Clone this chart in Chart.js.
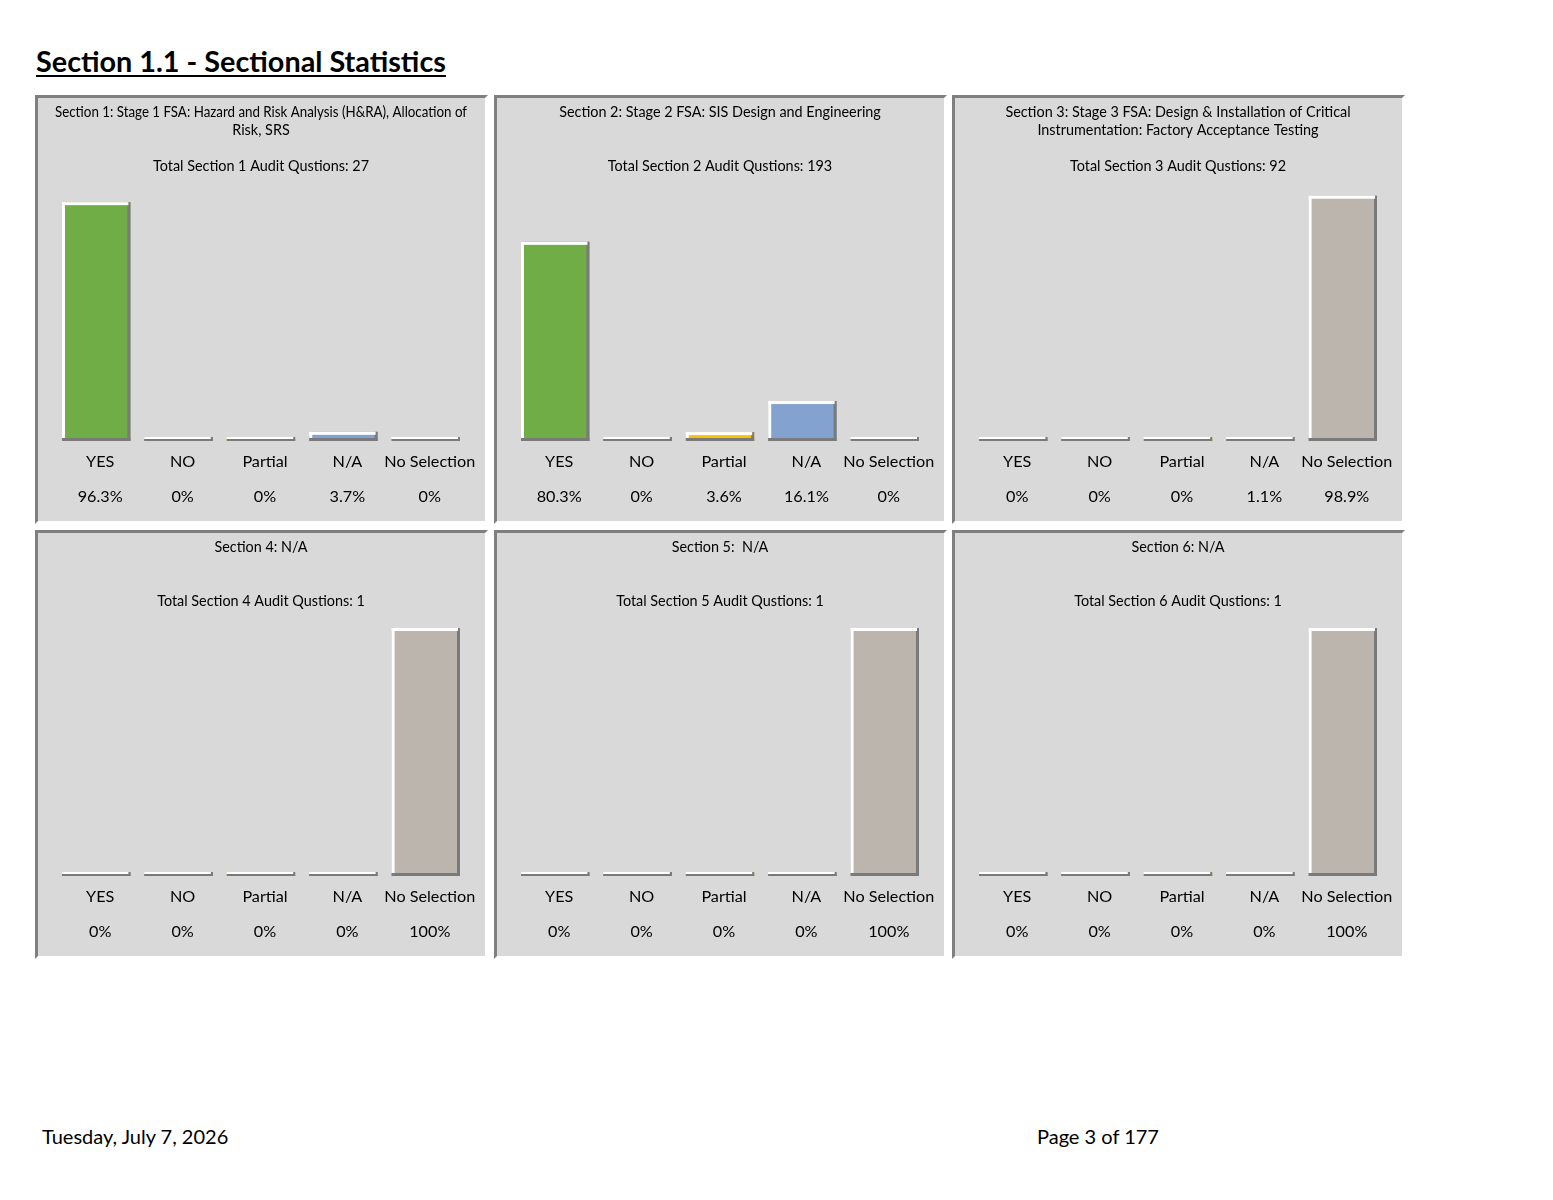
<!DOCTYPE html>
<html>
<head>
<meta charset="utf-8">
<script src="https://cdn.jsdelivr.net/npm/chart.js@4"></script>
<style>
  html, body { margin:0; padding:0; background:#fff; }
  body { width:1553px; height:1200px; position:relative; font-family: Lato, "Open Sans", sans-serif; }
  #pageTitle { position:absolute; left:36px; top:44px; margin:0; font-size:28.8px; font-weight:bold; text-decoration:underline; text-decoration-thickness:2px; text-underline-offset:3px; color:#000; white-space:nowrap; }
  .panel { position:absolute; width:447px; height:423px; background:#d9d9d9;
           border-top:3px solid #7f7f7f; border-left:3px solid #7f7f7f;
           border-right:3px solid #ffffff; border-bottom:3px solid #ffffff; }
  .panel canvas { display:block; }
  .footer { position:absolute; top:1124px; font-size:20px; color:#000; white-space:nowrap; }
</style>
</head>
<body>
<h1 id="pageTitle">Section 1.1 - Sectional Statistics</h1>
<div id="panels"></div>
<div class="footer" style="left:42px;">Tuesday, July 7, 2026</div>
<div class="footer" style="left:1037px;">Page 3 of 177</div>
<script>
// ---- data ----
const categories = ["YES", "NO", "Partial", "N/A", "No Selection"];
const barColors = ["#70ad47", "#c0504d", "#ffc000", "#84a2cf", "#bcb5ae"];
const sectionTitles = [
  ["Section 1: Stage 1 FSA: Hazard and Risk Analysis (H&RA), Allocation of", "Risk, SRS"],
  ["Section 2: Stage 2 FSA: SIS Design and Engineering", ""],
  ["Section 3: Stage 3 FSA: Design & Installation of Critical", "Instrumentation: Factory Acceptance Testing"],
  ["Section 4: N/A", ""],
  ["Section 5:  N/A", ""],
  ["Section 6: N/A", ""]
];
const sectionTotals = [27, 193, 92, 1, 1, 1];
const section1Values = [96.3, 0, 0, 3.7, 0];
const section2Values = [80.3, 0, 3.6, 16.1, 0];
const section3Values = [0, 0, 0, 1.1, 98.9];
const section4Values = [0, 0, 0, 0, 100];
const section5Values = [0, 0, 0, 0, 100];
const section6Values = [0, 0, 0, 0, 100];
const allValues = [section1Values, section2Values, section3Values, section4Values, section5Values, section6Values];

// ---- layout ----
const panelLefts = [35, 494, 952];
const panelTops = [95, 530];

const bevelPlugin = {
  id: 'bevel',
  afterDatasetsDraw(chart) {
    const ctx = chart.ctx;
    chart.data.datasets.forEach((ds, di) => {
      const meta = chart.getDatasetMeta(di);
      meta.data.forEach(el => {
        const p = el.getProps(['x', 'y', 'base', 'width'], true);
        const l = p.x - p.width / 2, r = p.x + p.width / 2;
        const t = Math.min(p.y, p.base), b = Math.max(p.y, p.base);
        const h = b - t, w = r - l;
        const s = Math.min(3, h / 2);
        ctx.save();
        ctx.fillStyle = '#7a7a7a';
        ctx.fillRect(r - 3, t, 3, h);
        ctx.fillRect(l, b - s, w, s);
        ctx.fillStyle = '#ffffff';
        ctx.fillRect(l, t, w - 2, s);
        ctx.fillRect(l, t, 3, h - s);
        ctx.restore();
      });
    });
  }
};

const container = document.getElementById('panels');
allValues.forEach((vals, i) => {
  const div = document.createElement('div');
  div.className = 'panel';
  div.style.left = panelLefts[i % 3] + 'px';
  div.style.top = panelTops[Math.floor(i / 3)] + 'px';
  const cv = document.createElement('canvas');
  cv.width = 447; cv.height = 423;
  cv.style.width = '447px'; cv.style.height = '423px';
  div.appendChild(cv);
  container.appendChild(div);

  const labels = categories.map((c, k) => [c, vals[k] + '%']);
  new Chart(cv, {
    type: 'bar',
    data: {
      labels: labels,
      datasets: [{
        data: vals,
        backgroundColor: barColors,
        borderWidth: 0,
        minBarLength: 4,
        barPercentage: 0.83,
        categoryPercentage: 1.0
      }]
    },
    options: {
      responsive: false,
      animation: false,
      devicePixelRatio: 1,
      layout: { padding: { left: 17, right: 18, top: 0, bottom: 4 } },
      plugins: {
        legend: { display: false },
        tooltip: { enabled: false },
        title: {
          display: true,
          text: [sectionTitles[i][0], sectionTitles[i][1], '', 'Total Section ' + (i + 1) + ' Audit Qustions: ' + sectionTotals[i]],
          color: '#000',
          font: { family: 'Lato', size: 14.4, weight: 'normal', lineHeight: 18 / 14.4 },
          padding: { top: 5, bottom: 18 }
        }
      },
      scales: {
        x: {
          grid: { display: false, drawTicks: false },
          border: { display: false },
          ticks: { color: '#000', font: { family: 'Lato', size: 16.2, lineHeight: 35 / 16.2 }, padding: 3, labelOffset: 4, maxRotation: 0, autoSkip: false }
        },
        y: {
          display: false,
          min: 0, max: 100
        }
      }
    },
    plugins: [bevelPlugin]
  });
});
</script>
</body>
</html>
